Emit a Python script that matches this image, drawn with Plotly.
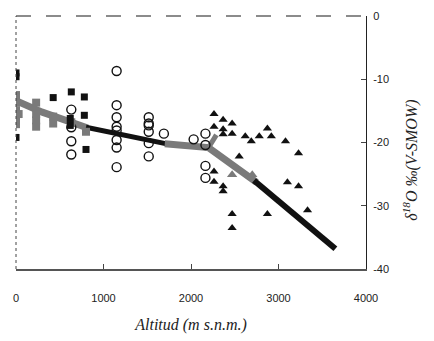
import plotly.graph_objects as go

# ---- data ----
blk_sq_x = [0, 0, 0, 425, 632, 781, 781, 620, 620, 800]
blk_sq_y = [-9.0, -9.6, -19.2, -12.9, -12.0, -12.8, -15.7, -16.2, -17.3, -21.1]

gry_sq_x = [0, 0, 0, 0, 0, 30, 230, 230, 230, 230, 425, 425, 632, 800]
gry_sq_y = [-12.5, -13.7, -14.9, -16.0, -17.1, -15.5, -13.7, -15.5, -16.5, -17.5, -15.9, -17.0, -16.8, -18.3]

circ_x = [632, 632, 632, 632,
          1150, 1150, 1150, 1150, 1150, 1150, 1150, 1150,
          1517, 1517, 1517, 1517, 1517, 1517,
          1690, 2030, 2165, 2165, 2165, 2165]
circ_y = [-14.8, -17.6, -19.8, -21.9,
          -8.7, -14.1, -16.0, -17.5, -18.1, -19.6, -20.8, -23.9,
          -16.0, -17.0, -17.3, -18.3, -20.1, -22.2,
          -18.6, -19.5, -18.6, -20.4, -23.7, -25.6]

tri_x = [2263, 2367, 2470, 2263, 2367, 2367, 2470, 2620, 2689, 2780, 2873, 2918,
         3080, 3229, 2551, 2263, 2263, 2367, 2367, 3102, 3229, 2470, 2470, 2873, 3332]
tri_y = [-15.5, -16.4, -17.0, -17.5, -17.9, -18.7, -18.6, -19.0, -19.8, -19.0, -17.8, -19.0,
         -19.8, -21.7, -22.2, -24.6, -26.2, -26.9, -27.7, -26.3, -26.9, -31.3, -33.5, -31.3, -30.7]

gtri_x = [2470, 2700]
gtri_y = [-25.1, -25.1]

grey_l1_x = [0, 300, 820]
grey_l1_y = [-13.4, -15.2, -17.7]
black_l1_x = [800, 1750]
black_l1_y = [-17.6, -20.3]
grey_l2_x = [1700, 2200, 2750]
grey_l2_y = [-20.2, -20.8, -26.3]
grey_l3_x = [2200, 2290]
grey_l3_y = [-20.8, -18.8]
black_l2_x = [2720, 3650]
black_l2_y = [-26.0, -36.8]

x_ticks = [0, 1000, 2000, 3000, 4000]
y_ticks = [0, -10, -20, -30, -40]

GREY = "#7a7a7a"

fig = go.Figure()
fig.add_trace(go.Scatter(x=grey_l1_x, y=grey_l1_y, mode="lines",
                         line=dict(color=GREY, width=7), hoverinfo="skip"))
fig.add_trace(go.Scatter(x=black_l1_x, y=black_l1_y, mode="lines",
                         line=dict(color="#111", width=5), hoverinfo="skip"))
fig.add_trace(go.Scatter(x=grey_l2_x, y=grey_l2_y, mode="lines",
                         line=dict(color=GREY, width=7), hoverinfo="skip"))
fig.add_trace(go.Scatter(x=grey_l3_x, y=grey_l3_y, mode="lines",
                         line=dict(color=GREY, width=5), hoverinfo="skip"))
fig.add_trace(go.Scatter(x=black_l2_x, y=black_l2_y, mode="lines",
                         line=dict(color="#111", width=6), hoverinfo="skip"))

fig.add_trace(go.Scatter(x=circ_x, y=circ_y, mode="markers",
                         marker=dict(symbol="circle-open", size=9, color="#111",
                                     line=dict(width=1.4, color="#111"))))
fig.add_trace(go.Scatter(x=gry_sq_x, y=gry_sq_y, mode="markers",
                         marker=dict(symbol="square", size=8, color=GREY)))
fig.add_trace(go.Scatter(x=blk_sq_x, y=blk_sq_y, mode="markers",
                         marker=dict(symbol="square", size=7, color="#111")))
fig.add_trace(go.Scatter(x=tri_x, y=tri_y, mode="markers",
                         marker=dict(symbol="triangle-up", size=8, color="#111")))
fig.add_trace(go.Scatter(x=gtri_x, y=gtri_y, mode="markers",
                         marker=dict(symbol="triangle-up", size=9, color=GREY)))

fig.update_layout(
    width=434, height=341,
    margin=dict(l=16, r=68, t=10, b=68),
    paper_bgcolor="white", plot_bgcolor="white",
    showlegend=False,
    font=dict(family="Liberation Sans", size=11, color="#222"),
    xaxis=dict(range=[0, 4000], tickvals=x_ticks, ticktext=[str(v) for v in x_ticks],
               showgrid=False, zeroline=False, showline=True, linecolor="#555", linewidth=1.5,
               ticks="inside", ticklen=5, tickcolor="#444", ticklabelstandoff=18,
               title=dict(text="Altitud (m s.n.m.)", standoff=16,
                          font=dict(family="Liberation Serif", size=16, style="italic", color="#222"))),
    yaxis=dict(range=[-40, 0], side="right", tickvals=y_ticks, ticktext=[str(v) for v in y_ticks],
               showgrid=False, zeroline=False, showline=True, linecolor="#222", linewidth=1,
               ticks="inside", ticklen=5, tickcolor="#444", ticklabelstandoff=4),
)

# frame: faded top line and dotted left line
fig.add_shape(type="line", xref="paper", yref="paper", x0=0, x1=1, y0=1, y1=1,
              line=dict(color="#666", width=1.5, dash="longdash"))
fig.add_shape(type="line", xref="paper", yref="paper", x0=0, x1=0, y0=0, y1=1,
              line=dict(color="#444", width=1, dash="dot"))

fig.add_annotation(text="δ<sup>18</sup>O ‰(V-SMOW)", xref="paper", yref="paper",
                   x=1.0, y=0.43, xshift=57, textangle=-90, showarrow=False,
                   font=dict(family="Liberation Serif", size=16, style="italic", color="#222"))

fig.write_html("out.html")
